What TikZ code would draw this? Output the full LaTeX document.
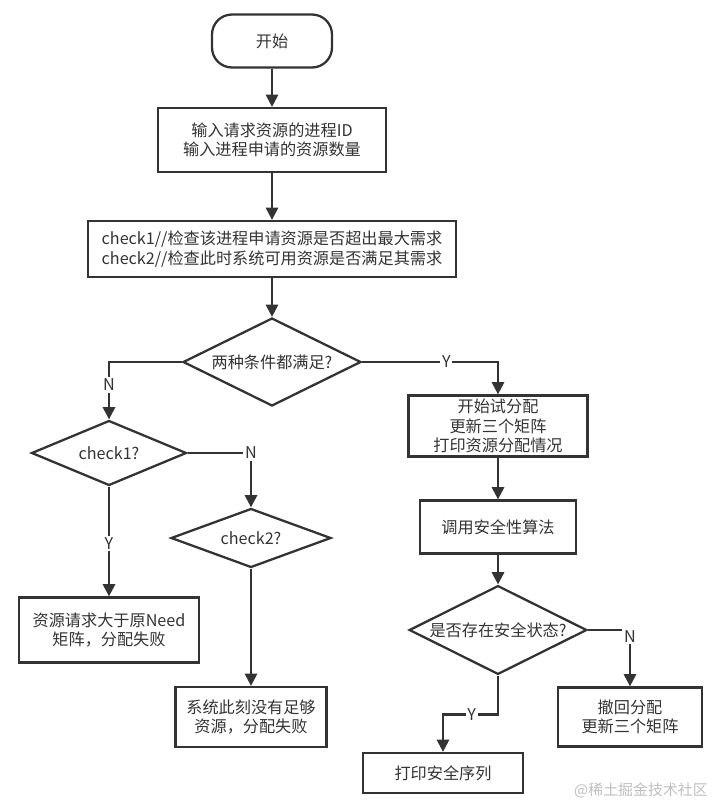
\documentclass[tikz,border=0pt]{standalone}
\usepackage{fontspec}
\setmainfont{Noto Sans CJK SC}
\usetikzlibrary{arrows.meta,shapes.geometric}
\definecolor{ink}{HTML}{333333}

\begin{document}
\begin{tikzpicture}[x=0.02cm,y=-0.02cm,
        font=\fontsize{9.2}{11}\selectfont,
        every node/.style={text=ink},
        process/.style={draw=ink,line width=1.3pt,rectangle,align=center,inner sep=0pt},
        terminal/.style={draw=ink,line width=1.3pt,rectangle,rounded corners=0.4cm,inner sep=0pt},
        decision/.style={draw=ink,line width=1.3pt,diamond,aspect=2,inner sep=1pt},
        flow/.style={draw=ink,line width=1.3pt,-{Triangle[length=7pt,width=7pt]}},
        tag/.style={fill=white,inner sep=1pt}]
        \useasboundingbox (0,0) rectangle (714,801);
        \node[terminal,minimum width=2.4cm,minimum height=1.06cm](start) at (272,41)  {开始};
        \node[process,minimum width=4.56cm,minimum height=1.28cm](input) at (272,140) {输入请求资源的进程ID\\输入进程申请的资源数量};
        \node[process,minimum width=7.36cm,minimum height=1.12cm](check) at (272,249) {check1//检查该进程申请资源是否超出最大需求\\check2//检查此时系统可用资源是否满足其需求};
        \node[decision,minimum width=3.56cm,minimum height=1.76cm](both) at (272,362) {两种条件都满足?};
        \node[decision,minimum width=3.1cm,minimum height=1.3cm](chkone) at (109,453) {check1?};
        \node[decision,minimum width=3.2cm,minimum height=1.18cm](chktwo) at (251,538) {check2?};
        \node[process,minimum width=3.6cm,minimum height=1.3cm](failone) at (109,630) {资源请求大于原Need\\矩阵，分配失败};
        \node[process,minimum width=3.02cm,minimum height=1.2cm](failtwo) at (251,717) {系统此刻没有足够\\资源，分配失败};
        \node[process,minimum width=3.58cm,minimum height=1.22cm](alloc) at (498,426) {开始试分配\\更新三个矩阵\\打印资源分配情况};
        \node[process,minimum width=3.12cm,minimum height=1.06cm](safety) at (498,527) {调用安全性算法};
        \node[decision,minimum width=3.46cm,minimum height=1.76cm](safe) at (498,630) {是否存在安全状态?};
        \node[process,minimum width=2.88cm,minimum height=1.18cm](undo) at (630,717) {撤回分配\\更新三个矩阵};
        \node[process,minimum width=3.2cm,minimum height=0.8cm](seq) at (443,773) {打印安全序列};
        \node[text=black!25,font=\fontsize{8.5}{10}\selectfont](mark) at (641,790) {@稀土掘金技术社区};
        \draw[flow] (start) -- (input);
        \draw[flow] (input) -- (check);
        \draw[flow] (check.south -| both.north) -- (both);
        \draw[flow] (both.west) -| node[tag,pos=0.7] {N} (chkone.north);
        \draw[flow] (both.east) -| node[tag,pos=0.31] {Y} (alloc.north);
        \draw[flow] (chkone.east) -| node[tag,pos=0.5] {N} (chktwo.north);
        \draw[flow] (chkone.south) -- node[tag,pos=0.52] {Y} (failone.north);
        \draw[flow] (chktwo.south) -- (failtwo.north);
        \draw[flow] (alloc) -- (safety);
        \draw[flow] (safety) -- (safe);
        \draw[flow] (safe.east) -| node[tag,pos=0.56] {N} (undo.north);
        \draw[flow] (safe.south) -- ++(0,39) -| node[tag,pos=0.24] {Y} (seq.north);
    \end{tikzpicture}
\end{document}
